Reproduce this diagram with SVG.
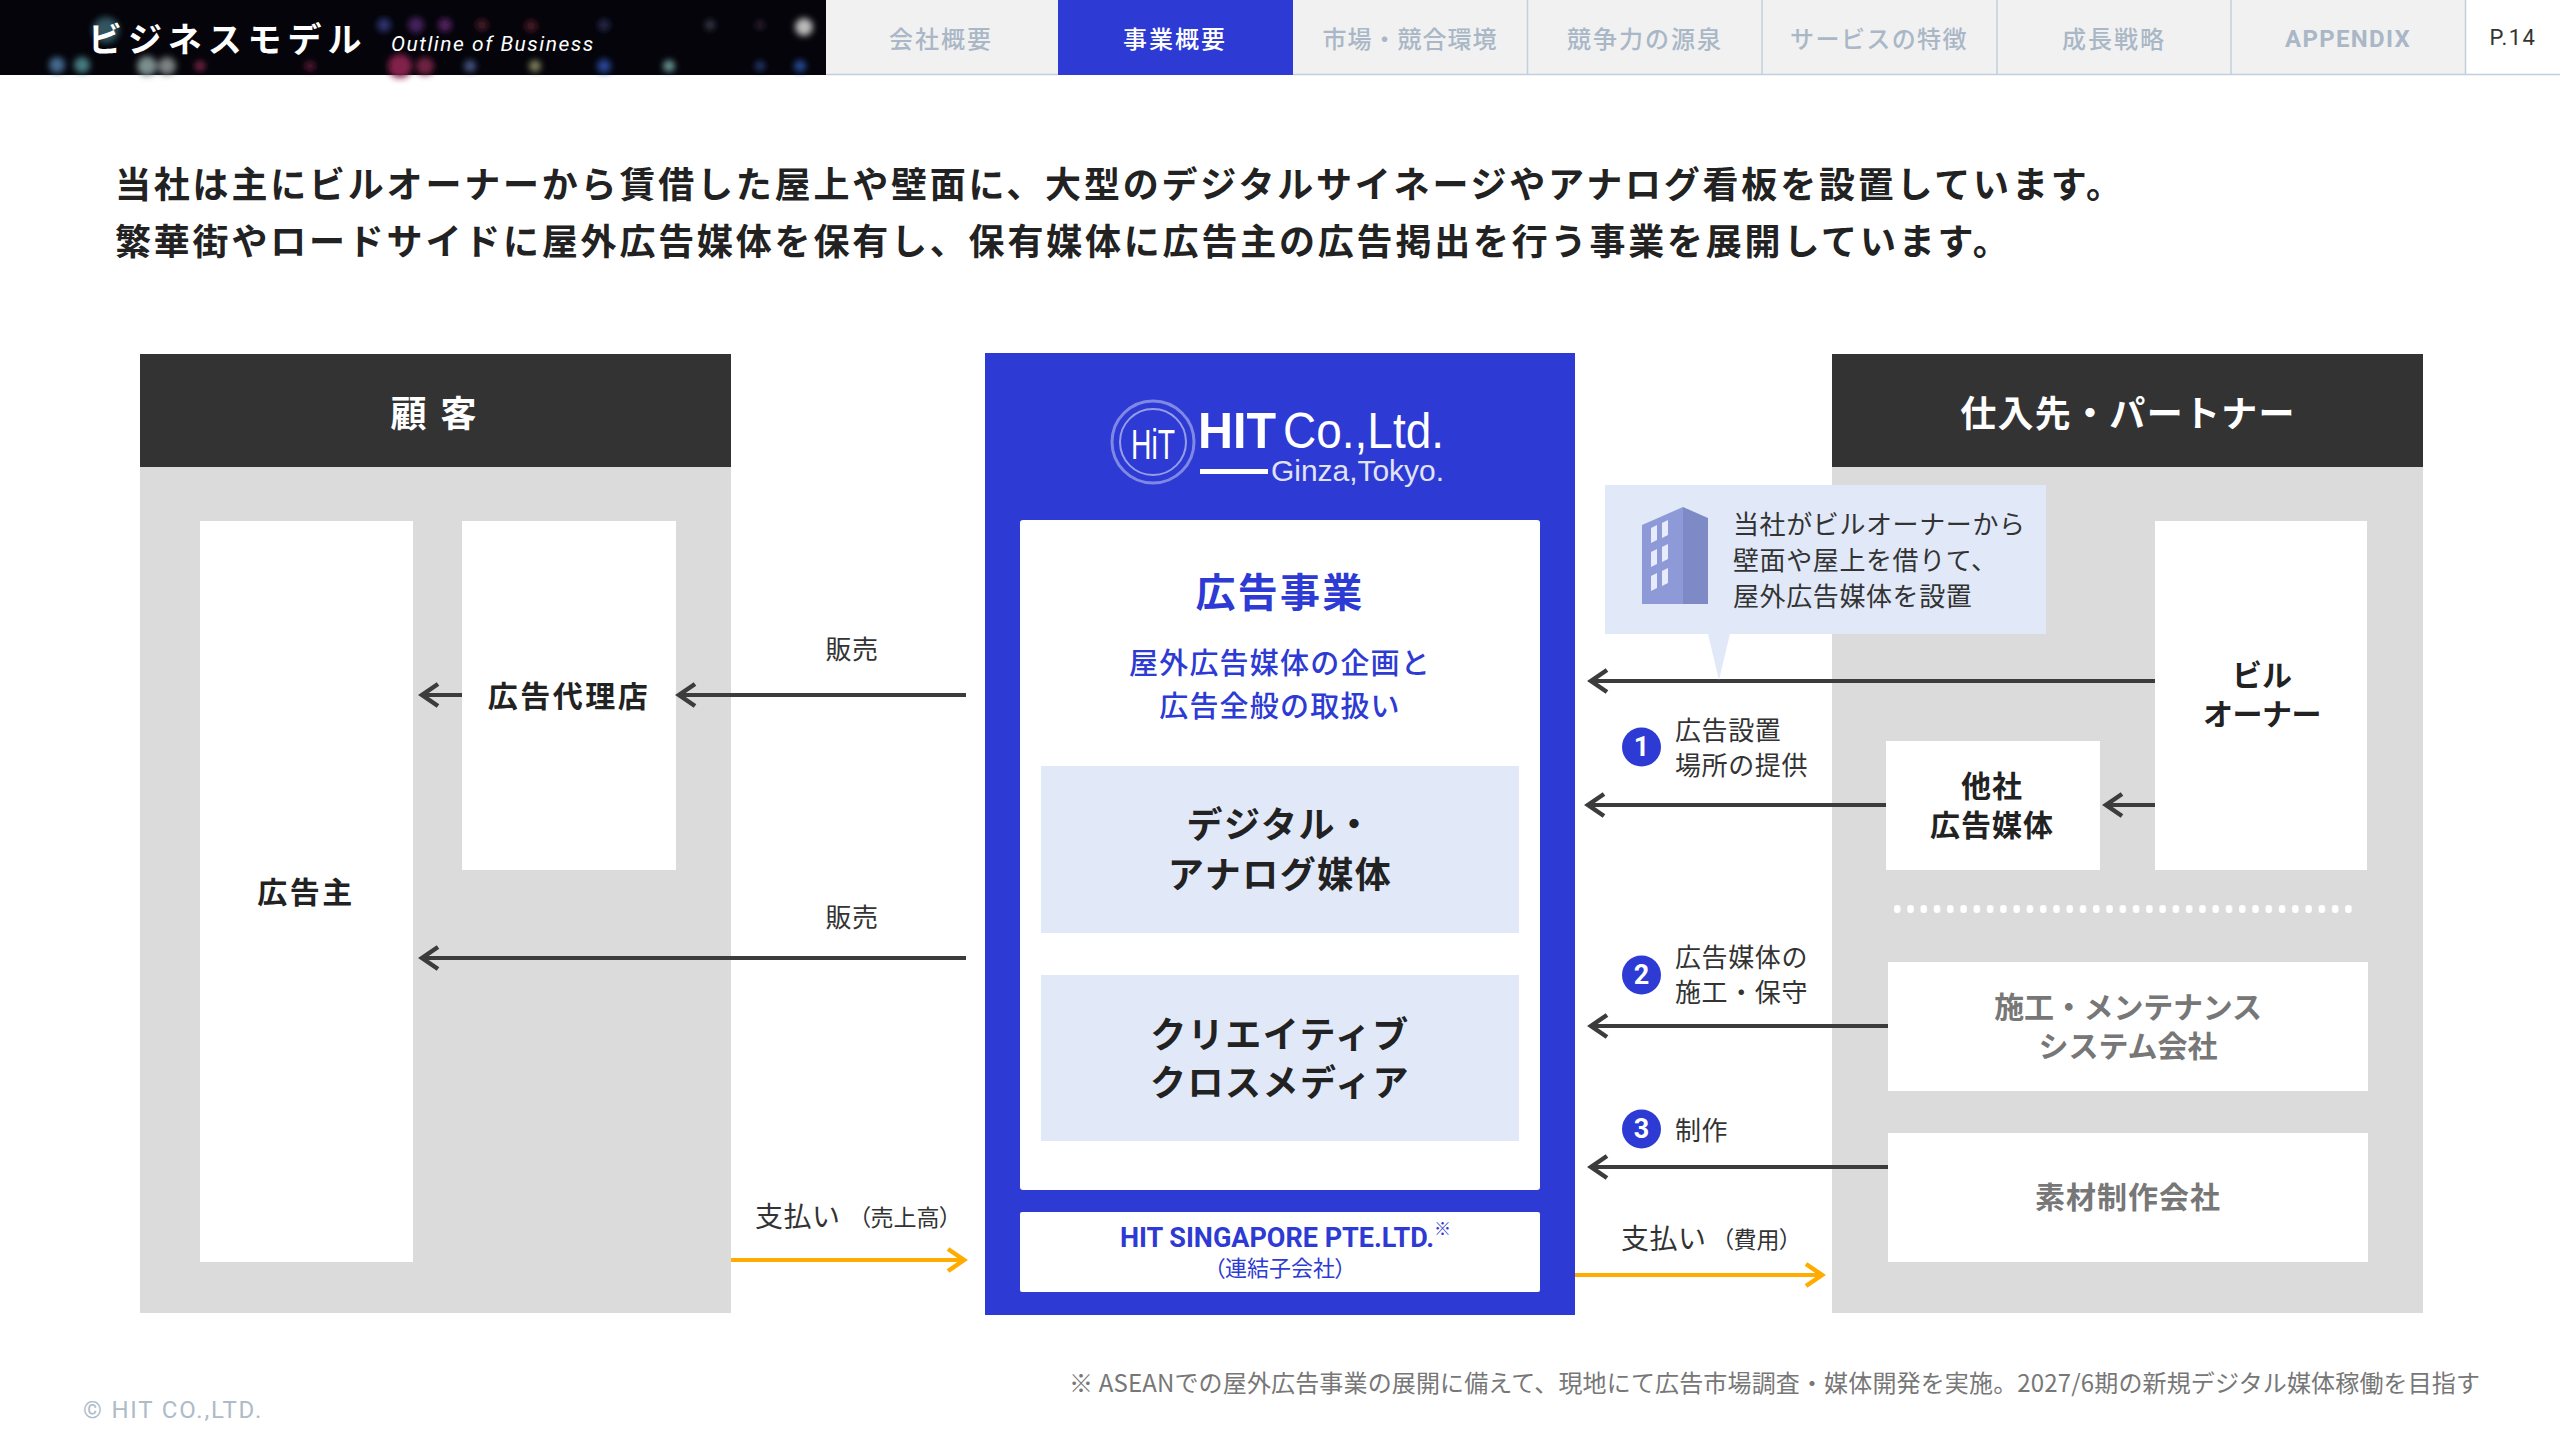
<svg xmlns="http://www.w3.org/2000/svg" width="2560" height="1440" viewBox="0 0 2560 1440">
<style>
text{font-family:"Noto Sans CJK JP","Noto Sans",sans-serif;dominant-baseline:central;fill:#222}
.m{text-anchor:middle}
.b{font-weight:700}
.tab{font-size:24px;font-weight:500;fill:#a9b7c6;letter-spacing:2px;text-anchor:middle}
.lead{font-size:36px;font-weight:700;letter-spacing:2.8px;fill:#222}
.hd{font-size:36px;font-weight:700;fill:#fff;text-anchor:middle}
.nd{font-size:30px;font-weight:700;letter-spacing:2.5px;text-anchor:middle}
.lg{font-size:36px;font-weight:700;letter-spacing:1.5px;text-anchor:middle}
.gy{fill:#777;font-size:30px;font-weight:700;letter-spacing:1px;text-anchor:middle}
.lb{font-size:26px;font-weight:400;fill:#333;letter-spacing:.6px}
.num{font-family:Roboto,sans-serif;font-size:27px;font-weight:700;fill:#fff;text-anchor:middle}
.pay{font-size:28px;fill:#333;letter-spacing:.5px}
.paren{font-size:23px;fill:#333;font-feature-settings:"palt"}
.logo{font-family:"Liberation Sans",sans-serif;fill:#fff;stroke:none}
.panel{fill:#dbdbdb}.hdr{fill:#333}.wh{fill:#fff}.lt{fill:#e1e9f9}.bl{fill:#2d3ad3}
.ar{fill:none;stroke:#3c3c3c;stroke-width:4}
.or{fill:none;stroke:#ffab00;stroke-width:4}
.tb{fill:#f1f1f1}.sep{stroke:#c2cfdc;stroke-width:1.5}
.bt{fill:#2d3ad3}
</style>
<defs>
<filter id="bl" x="-50%" y="-50%" width="200%" height="200%"><feGaussianBlur stdDeviation="3"/><feComponentTransfer><feFuncR type="linear" slope="1.4"/><feFuncG type="linear" slope="1.4"/><feFuncB type="linear" slope="1.4"/></feComponentTransfer></filter>
<marker id="ah" markerUnits="userSpaceOnUse" markerWidth="28" markerHeight="30" refX="24" refY="15" orient="auto"><path d="M7 4 L23 15 L7 26" fill="none" stroke="#3c3c3c" stroke-width="4.500"/></marker>
<marker id="ao" markerUnits="userSpaceOnUse" markerWidth="28" markerHeight="30" refX="24" refY="15" orient="auto"><path d="M7 4 L23 15 L7 26" fill="none" stroke="#ffab00" stroke-width="4.500"/></marker>
<pattern id="dots" x="1893" y="902" width="13.27" height="14" patternUnits="userSpaceOnUse"><rect x="1" y="3" width="6.500" height="8" rx="3" fill="#fff"/></pattern>
</defs>
<rect width="2560" height="1440" fill="#fff"/>
<g id="header">
<rect x="0" y="0" width="826" height="75" fill="#04040a"/>
<g filter="url(#bl)">
<circle cx="106" cy="30" r="13" fill="#2b4a52"/><circle cx="57" cy="65" r="8" fill="#3a5a7a"/><circle cx="82" cy="65" r="8" fill="#3d6a70"/><circle cx="147" cy="66" r="10" fill="#6a7a7a"/><circle cx="167" cy="66" r="9" fill="#6a7070"/><circle cx="200" cy="66" r="5" fill="#702040"/><circle cx="310" cy="66" r="5" fill="#501830"/><circle cx="384" cy="25" r="7" fill="#252a60"/><circle cx="416" cy="25" r="8" fill="#3a1c50"/><circle cx="445" cy="25" r="7" fill="#451a50"/><circle cx="400" cy="66" r="12" fill="#701c40"/><circle cx="425" cy="66" r="9" fill="#601c38"/><circle cx="470" cy="66" r="6" fill="#3a4a70"/><circle cx="482" cy="25" r="6" fill="#3a1820"/><circle cx="531" cy="26" r="6" fill="#401820"/><circle cx="535" cy="66" r="6" fill="#707050"/><circle cx="604" cy="66" r="7" fill="#203a80"/><circle cx="604" cy="25" r="6" fill="#202040"/><circle cx="669" cy="66" r="6" fill="#5a8080"/><circle cx="710" cy="25" r="5" fill="#303040"/><circle cx="760" cy="25" r="4" fill="#302030"/><circle cx="804" cy="27" r="9" fill="#a0a0a0"/><circle cx="760" cy="66" r="5" fill="#203060"/><circle cx="800" cy="66" r="6" fill="#204080"/>
</g>
<text x="88" y="37" font-size="34" font-weight="700" letter-spacing="5.900" style="fill:#fff">ビジネスモデル</text>
<text x="391" y="44" font-size="21" font-style="italic" letter-spacing="1.500" style="fill:#fff;font-family:Roboto,sans-serif">Outline of Business</text>
</g>
<g id="tabs">
<rect class="tb" x="826" y="0" width="232" height="74"/>
<rect class="bl" x="1058" y="0" width="235" height="75"/>
<rect class="tb" x="1293" y="0" width="1172" height="74"/>
<path class="sep" d="M826 74.500H1058M1293 74.500H2560M1527.500 0V75M1762 0V75M1997 0V75M2231 0V75M2465.500 0V75"/>
<text class="tab" x="941" y="37">会社概要</text>
<text class="tab" x="1175" y="37" style="fill:#fff">事業概要</text>
<text class="tab" x="1410" y="37" style="letter-spacing:1px">市場・競合環境</text>
<text class="tab" x="1645" y="37">競争力の源泉</text>
<text class="tab" x="1879" y="37" style="letter-spacing:1.400px">サービスの特徴</text>
<text class="tab" x="2114" y="37">成長戦略</text>
<text class="tab" x="2348" y="39" style="font-family:Roboto,sans-serif;font-weight:700;letter-spacing:1.300px">APPENDIX</text>
<text x="2513" y="37" text-anchor="middle" font-size="22" letter-spacing="1.500" style="font-family:Roboto,sans-serif;fill:#333">P.14</text>
</g>
<g id="lead">
<text class="lead" x="115" y="181.500">当社は主にビルオーナーから賃借した屋上や壁面に、大型のデジタルサイネージやアナログ看板を設置しています。</text>
<text class="lead" x="115" y="238.500">繁華街やロードサイドに屋外広告媒体を保有し、保有媒体に広告主の広告掲出を行う事業を展開しています。</text>
</g>
<g id="customer-panel">
<rect class="panel" x="140" y="467" width="591" height="846"/>
<rect class="hdr" x="140" y="354" width="591" height="113"/>
<text class="hd" x="435" y="410.500" letter-spacing="3">顧 客</text>
</g>
<g id="advertiser"><rect class="wh" x="200" y="521" width="213" height="741"/><text class="nd" x="306" y="889.500">広告主</text></g>
<g id="agency"><rect class="wh" x="462" y="521" width="214" height="349"/><text class="nd" x="569" y="693.500">広告代理店</text></g>
<g id="hit">
<rect class="bl" x="985" y="353" width="590" height="962"/>
<g id="hit-logo" fill="none" stroke="#c3c9f3">
<circle cx="1153" cy="442" r="41" stroke-width="3" opacity=".55"/><circle cx="1153" cy="442" r="33" stroke-width="2" opacity=".7"/>
<text class="logo" x="1153" y="444" text-anchor="middle" font-size="42" textLength="44" lengthAdjust="spacingAndGlyphs">HiT</text>
<text class="logo" x="1198" y="431" font-size="50" font-weight="700" textLength="78" lengthAdjust="spacingAndGlyphs">HIT</text>
<text class="logo" x="1283" y="431" font-size="50" textLength="161" lengthAdjust="spacingAndGlyphs">Co.,Ltd.</text>
<rect x="1200" y="469" width="68" height="5" fill="#fff" stroke="none"/>
<text class="logo" x="1271" y="470" font-size="30" textLength="173" lengthAdjust="spacingAndGlyphs" style="fill:#e0e3f8">Ginza,Tokyo.</text>
</g>
<rect class="wh" x="1020" y="520" width="520" height="670" rx="3"/>
<text class="m b" x="1280" y="589.500" font-size="40" style="fill:#2d3ad3" letter-spacing="2.300">広告事業</text>
<text class="m" x="1280" y="660.500" font-size="29" font-weight="500" letter-spacing="1.200" style="fill:#2d3ad3">屋外広告媒体の企画と</text>
<text class="m" x="1280" y="703.500" font-size="29" font-weight="500" letter-spacing="1.200" style="fill:#2d3ad3">広告全般の取扱い</text>
<rect class="lt" x="1041" y="766" width="478" height="167"/>
<text class="lg" x="1280" y="821.500">デジタル・</text><text class="lg" x="1280" y="871.500">アナログ媒体</text>
<rect class="lt" x="1041" y="975" width="478" height="166"/>
<text class="lg" x="1280" y="1031.500">クリエイティブ</text><text class="lg" x="1280" y="1079.500">クロスメディア</text>
<rect class="wh" x="1020" y="1212" width="520" height="80" rx="2"/>
<text x="1120" y="1238" font-size="27" font-weight="700" style="font-family:Roboto,'Noto Sans CJK JP',sans-serif;fill:#2d3ad3">HIT SINGAPORE PTE.LTD.<tspan font-size="17" font-weight="900" dy="-9">※</tspan></text>
<text class="m" x="1280" y="1266" font-size="22" style="fill:#2d3ad3;font-feature-settings:'palt'">（連結子会社）</text>
</g>
<g id="supplier-panel">
<rect class="panel" x="1832" y="467" width="591" height="846"/>
<rect class="hdr" x="1832" y="354" width="591" height="113"/>
<text class="hd" x="2128" y="410.500" letter-spacing="1.300">仕入先・パートナー</text>
<rect x="1893" y="902" width="465" height="14" fill="url(#dots)"/>
</g>
<g id="owner"><rect class="wh" x="2155" y="521" width="212" height="349"/><text class="nd" x="2262" y="672.500" style="letter-spacing:0">ビル</text><text class="nd" x="2262" y="711.500" style="letter-spacing:-.5px">オーナー</text></g>
<g id="other-media"><rect class="wh" x="1886" y="741" width="214" height="129"/><text class="nd" x="1992" y="783.500" style="letter-spacing:1px">他社</text><text class="nd" x="1992" y="822.500" style="letter-spacing:1px">広告媒体</text></g>
<g id="construction"><rect class="wh" x="1888" y="962" width="480" height="129"/><text class="gy" x="2128" y="1004.500" style="letter-spacing:-.2px">施工・メンテナンス</text><text class="gy" x="2128" y="1043.500" style="letter-spacing:0">システム会社</text></g>
<g id="material"><rect class="wh" x="1888" y="1133" width="480" height="129"/><text class="gy" x="2128" y="1194.500">素材制作会社</text></g>
<g id="connectors">
<path class="ar" marker-end="url(#ah)" d="M966 695H678"/>
<path class="ar" marker-end="url(#ah)" d="M462 695H421"/>
<path class="ar" marker-end="url(#ah)" d="M966 958H421"/>
<path class="ar" marker-end="url(#ah)" d="M2155 681H1590"/>
<path class="ar" marker-end="url(#ah)" d="M1886 805H1587"/>
<path class="ar" marker-end="url(#ah)" d="M2155 805H2105"/>
<path class="ar" marker-end="url(#ah)" d="M1888 1026H1590"/>
<path class="ar" marker-end="url(#ah)" d="M1888 1167H1590"/>
<path class="or" marker-end="url(#ao)" d="M731 1260H965"/>
<path class="or" marker-end="url(#ao)" d="M1575 1275H1823"/>
</g>
<g id="callout">
<path class="lt" d="M1605 485H2046V634H1730L1719 680L1708 634H1605Z"/>
<path d="M1642 525L1683 507V604H1642Z" fill="#8e9ad8"/><path d="M1683 507L1708 518V604H1683Z" fill="#7d8ac6"/>
<path d="M1651 528l6-3v15l-6 3zM1662 523l6-3v15l-6 3zM1651 552l6-3v15l-6 3zM1662 547l6-3v15l-6 3zM1651 576l6-3v15l-6 3zM1662 571l6-3v15l-6 3z" fill="#e8ecfa"/>
<text x="1733" y="522.500" font-size="26" style="fill:#333" letter-spacing=".6">当社がビルオーナーから</text>
<text x="1733" y="558.500" font-size="26" style="fill:#333" letter-spacing=".6">壁面や屋上を借りて、</text>
<text x="1733" y="594.500" font-size="26" style="fill:#333" letter-spacing=".6">屋外広告媒体を設置</text>
</g>
<g id="labels">
<text class="lb m" x="852" y="647">販売</text>
<text class="lb m" x="852" y="915">販売</text>
<circle class="bt" cx="1641.500" cy="747" r="19.500"/><text class="num" x="1641.500" y="747">1</text>
<text class="lb" x="1675" y="728.500">広告設置</text><text class="lb" x="1675" y="763">場所の提供</text>
<circle class="bt" cx="1641.500" cy="975" r="19.500"/><text class="num" x="1641.500" y="975">2</text>
<text class="lb" x="1675" y="955.500">広告媒体の</text><text class="lb" x="1675" y="990">施工・保守</text>
<circle class="bt" cx="1641.500" cy="1129" r="19.500"/><text class="num" x="1641.500" y="1129">3</text>
<text class="lb" x="1675" y="1128">制作</text>
<text class="pay" x="755" y="1215">支払い</text><text class="paren" x="859" y="1216">（売上高）</text>
<text class="pay" x="1621" y="1237">支払い</text><text class="paren" x="1722" y="1238">（費用）</text>
</g>
<g id="footer">
<text x="1069" y="1381" font-size="24" style="fill:#777" textLength="1411">※ ASEANでの屋外広告事業の展開に備えて、現地にて広告市場調査・媒体開発を実施。2027/6期の新規デジタル媒体稼働を目指す</text>
<text x="83" y="1410" font-size="24" letter-spacing="1.800" style="fill:#aebbc9;font-family:Roboto,sans-serif">© HIT CO.,LTD.</text>
</g>
</svg>
